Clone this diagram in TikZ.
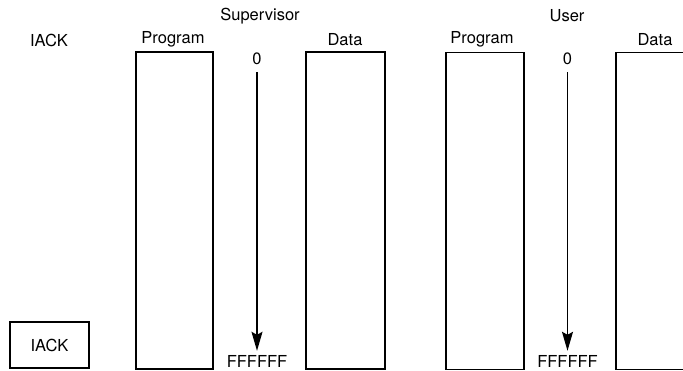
\documentclass[tikz,border=0pt]{standalone}
\usepackage{fontspec}
\setmainfont{TeX Gyre Heros}
\usetikzlibrary{arrows.meta}
\begin{document}
\begin{tikzpicture}[x=1pt,y=-1pt,
  every node/.style={font=\fontsize{16.5}{19}\selectfont},
  lbl/.style={inner sep=0pt},
  mem/.style={draw,line width=1.5pt,minimum width=#1,minimum height=317pt,inner sep=0pt,anchor=north west},
  flow/.style={line width=1.3pt,-{Stealth[length=19pt,width=11pt,inset=3pt]}},
]
\useasboundingbox (0,0) rectangle (683,370);
\clip (0,0) rectangle (683,370);

% headings
\node[lbl] (sup) at (260,16) {Supervisor};
\node[lbl] (usr) at (567,16) {User};
\node[lbl] (iacklbl) at (49,40) {IACK};
\node[lbl] (sprogl) at (173,39) {Program};
\node[lbl] (sdatal) at (345,40) {Data};
\node[lbl] (uprogl) at (482,39) {Program};
\node[lbl] (udatal) at (655,40) {Data};

% memory spaces
\node[mem=77pt] (sprog) at (135,51) {};
\node[mem=79pt] (sdata) at (305,51) {};
\node[mem=78pt] (uprog) at (445,51.5) {};
\node[mem=90pt] (udata) at (615,51.5) {};

% interrupt acknowledge space
\node[draw,line width=1.5pt,minimum width=79pt,minimum height=46pt,inner sep=0pt] (iack) at (49.5,345) {IACK};

% address ranges
\node[lbl] (s0) at (257,59) {0};
\node[lbl] (sF) at (257,361) {FFFFFF};
\node[lbl] (u0) at (567.5,59) {0};
\node[lbl] (uF) at (567.5,361) {FFFFFF};
\draw[flow,shorten <=7pt,shorten >=4pt] (s0.south) -- (sF.north);
\draw[flow,shorten <=7pt,shorten >=4pt] (u0.south) -- (uF.north);
\end{tikzpicture}
\end{document}
